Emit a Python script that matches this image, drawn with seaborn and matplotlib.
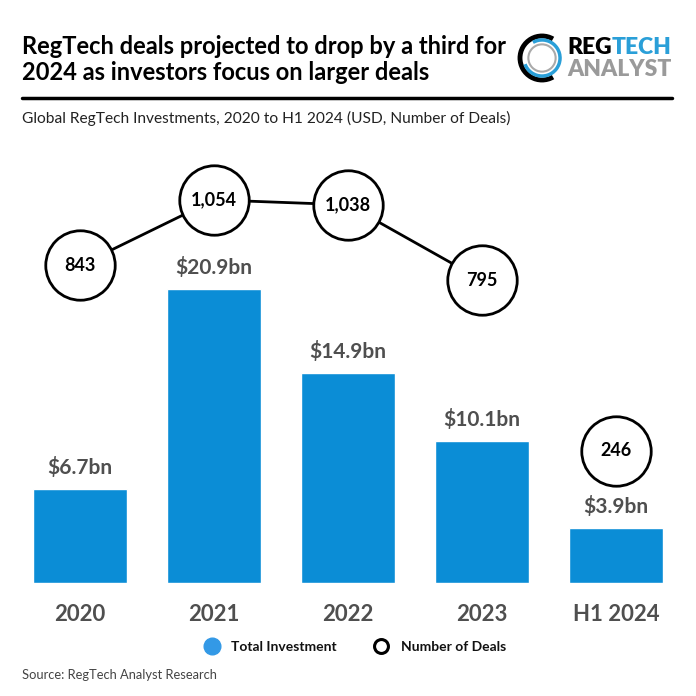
import matplotlib
matplotlib.use("Agg")
import matplotlib.pyplot as plt
import seaborn as sns
import pandas as pd
from matplotlib.lines import Line2D
from matplotlib.patches import Arc

periods = ["2020", "2021", "2022", "2023", "H1 2024"]
investment_bn = [6.7, 20.9, 14.9, 10.1, 3.9]
deals = [843, 1054, 1038, 795, 246]

sns.set_theme(style="white")
plt.rcParams["font.family"] = ["Lato", "DejaVu Sans"]

BLUE = "#0B8DD6"
GREY = "#4F4F4F"

df = pd.DataFrame({"period": periods, "investment": investment_bn, "deals": deals})

fig = plt.figure(figsize=(6.96, 6.96), dpi=100)
ax = fig.add_axes([13 / 696, 1 - 583 / 696, 670 / 696, 443 / 696])

sns.barplot(data=df, x="period", y="investment", color=BLUE, width=0.7,
            saturation=1, ax=ax)
ax.bar_label(ax.containers[0], labels=[f"${v:.1f}bn" for v in investment_bn],
             padding=8, fontsize=15, fontweight="bold", color=GREY)
ax.set_ylim(0, 31.5)
ax.set_xlim(-0.5, 4.5)
ax.set_xlabel("")
ax.set_ylabel("")
ax.set_yticks([])
ax.tick_params(axis="x", length=0, pad=15)
for lbl in ax.get_xticklabels():
    lbl.set_fontsize(16)
    lbl.set_fontweight("bold")
    lbl.set_color(GREY)
sns.despine(ax=ax, left=True, bottom=True)

ax2 = ax.twinx()
ax2.set_ylim(-181, 1247)
x_pos = list(range(len(periods)))
ax2.plot(x_pos[:4], deals[:4], color="black", lw=2, zorder=2)
ax2.scatter(x_pos, deals, s=50 ** 2, facecolor="white", edgecolor="black",
            linewidth=2, zorder=3)
for xi, d in zip(x_pos, deals):
    ax2.text(xi, d, f"{d:,}", ha="center", va="center", fontsize=13,
             fontweight="bold", color="black", zorder=4)
ax2.set_yticks([])
ax2.set_xlim(-0.5, 4.5)
for s in ax2.spines.values():
    s.set_visible(False)

# Title
fig.text(22 / 696, 1 - 46 / 696, "RegTech deals projected to drop by a third for",
         fontsize=17, fontweight="bold", color="black", va="center", ha="left")
fig.text(22 / 696, 1 - 72 / 696, "2024 as investors focus on larger deals",
         fontsize=17, fontweight="bold", color="black", va="center", ha="left")
fig.add_artist(Line2D([22 / 696, 672 / 696], [1 - 98 / 696, 1 - 98 / 696],
                      color="black", lw=2.5, transform=fig.transFigure))
fig.text(22 / 696, 1 - 118 / 696,
         "Global RegTech Investments, 2020 to H1 2024 (USD, Number of Deals)",
         fontsize=11.2, color="#222222", va="center", ha="left")

# Logo
cx, cy = 542 / 696, 1 - 58 / 696
r = 44 / 696
fig.add_artist(Arc((cx, cy), r, r, angle=0, theta1=60, theta2=300,
                   color="black", lw=3.5, transform=fig.transFigure))
fig.add_artist(Arc((cx, cy), r * 0.82, r * 0.82, angle=0, theta1=200, theta2=480,
                   color="#2A9FD8", lw=2.5, transform=fig.transFigure))
fig.add_artist(Arc((cx, cy), r * 0.62, r * 0.62, angle=0, theta1=0, theta2=360,
                   color="#AAAAAA", lw=1.5, transform=fig.transFigure))
fig.text(567 / 696, 1 - 48 / 696, "REG", fontsize=16.5, fontweight="heavy",
         color="black", va="center", ha="left")
fig.text(612 / 696, 1 - 48 / 696, "TECH", fontsize=16.5, fontweight="heavy",
         color="#2A9FD8", va="center", ha="left")
fig.text(567 / 696, 1 - 69 / 696, "ANALYST", fontsize=16.5, fontweight="heavy",
         color="#9A9A9A", va="center", ha="left")

# Legend
handles = [
    Line2D([], [], marker="o", linestyle="", markersize=12,
           markerfacecolor="#3399E6", markeredgecolor="#3399E6"),
    Line2D([], [], marker="o", linestyle="", markersize=10,
           markerfacecolor="white", markeredgecolor="black", markeredgewidth=2.2),
]
leg = fig.legend(handles, ["Total Investment", "Number of Deals"], ncol=2,
                 loc="center", bbox_to_anchor=(352 / 696, 1 - 647 / 696), frameon=False,
                 handletextpad=0.4, columnspacing=2.2, fontsize=10)
for t in leg.get_texts():
    t.set_fontweight("bold")
    t.set_color("#111111")

fig.text(22 / 696, 1 - 675 / 696, "Source: RegTech Analyst Research",
         fontsize=9.3, color="#444444", va="center", ha="left")

fig.savefig("out.png", dpi=100)
